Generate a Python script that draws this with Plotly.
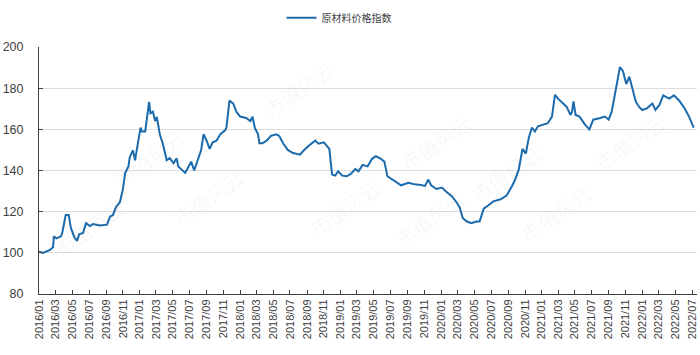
import plotly.graph_objects as go
import pandas as pd

series_name = "原材料价格指数"
dates = [
    "2016-01-01", "2016-01-15", "2016-02-10", "2016-02-21", "2016-02-24", "2016-03-04", "2016-03-21", "2016-03-26",
    "2016-04-07", "2016-04-18", "2016-04-26", "2016-05-09", "2016-05-18", "2016-05-26", "2016-06-09", "2016-06-20",
    "2016-07-04", "2016-07-15", "2016-08-09", "2016-09-04", "2016-09-15", "2016-09-26", "2016-10-07", "2016-10-21",
    "2016-11-01", "2016-11-09", "2016-11-21", "2016-11-26", "2016-12-07", "2016-12-15", "2016-12-21", "2017-01-04",
    "2017-01-09", "2017-01-21", "2017-02-04", "2017-02-09", "2017-02-18", "2017-02-26", "2017-03-04", "2017-03-15",
    "2017-03-26", "2017-04-09", "2017-04-20", "2017-05-04", "2017-05-15", "2017-05-21", "2017-06-04", "2017-06-15",
    "2017-06-23", "2017-07-07", "2017-07-18", "2017-08-01", "2017-08-12", "2017-08-21", "2017-09-01", "2017-09-12",
    "2017-09-23", "2017-10-07", "2017-10-21", "2017-11-07", "2017-11-12", "2017-11-23", "2017-12-07", "2017-12-18",
    "2018-01-01", "2018-01-23", "2018-02-07", "2018-02-15", "2018-02-23", "2018-03-07", "2018-03-12", "2018-03-23",
    "2018-04-07", "2018-04-23", "2018-05-12", "2018-05-23", "2018-06-07", "2018-06-23", "2018-07-12", "2018-08-07",
    "2018-08-18", "2018-09-07", "2018-10-01", "2018-10-12", "2018-11-01", "2018-11-12", "2018-11-21", "2018-12-01",
    "2018-12-12", "2018-12-23", "2019-01-07", "2019-01-23", "2019-02-07", "2019-02-23", "2019-03-07", "2019-03-22",
    "2019-04-09", "2019-04-26", "2019-05-09", "2019-05-26", "2019-06-09", "2019-06-20", "2019-07-09", "2019-07-26",
    "2019-08-09", "2019-09-04", "2019-09-26", "2019-10-20", "2019-11-04", "2019-11-15", "2019-11-26", "2019-12-15",
    "2020-01-04", "2020-01-20", "2020-02-09", "2020-02-26", "2020-03-09", "2020-03-20", "2020-04-04", "2020-04-20",
    "2020-05-09", "2020-05-20", "2020-06-04", "2020-06-20", "2020-07-09", "2020-08-04", "2020-08-26", "2020-09-15",
    "2020-09-26", "2020-10-09", "2020-10-17", "2020-10-23", "2020-11-04", "2020-11-15", "2020-11-26", "2020-12-07",
    "2020-12-18", "2021-01-07", "2021-01-23", "2021-02-07", "2021-02-18", "2021-03-01", "2021-03-18", "2021-04-01",
    "2021-04-15", "2021-04-21", "2021-04-26", "2021-05-04", "2021-05-18", "2021-06-07", "2021-06-23", "2021-07-07",
    "2021-08-01", "2021-08-18", "2021-09-01", "2021-09-12", "2021-09-23", "2021-10-07", "2021-10-12", "2021-10-23",
    "2021-11-04", "2021-11-15", "2021-11-23", "2021-12-09", "2021-12-20", "2022-01-01", "2022-01-18", "2022-02-07",
    "2022-02-18", "2022-03-04", "2022-03-18", "2022-04-09", "2022-04-26", "2022-05-15", "2022-06-04", "2022-06-20",
    "2022-07-07",
]
values = [
    100.5, 100.0, 101.4, 102.7, 108.0, 107.0, 108.0, 110.0,
    118.4, 118.4, 112.0, 107.4, 105.8, 109.0, 109.7, 114.4,
    113.0, 114.0, 113.3, 113.7, 117.6, 118.4, 122.3, 124.6,
    131.0, 138.8, 142.0, 146.6, 149.8, 145.0, 149.8, 160.8,
    159.0, 159.0, 173.3, 167.8, 168.6, 164.0, 166.0, 157.6,
    153.0, 145.0, 146.0, 143.5, 146.0, 142.0, 140.3, 138.8,
    140.7, 144.3, 140.0, 145.8, 149.8, 157.6, 154.5, 150.5,
    153.7, 154.5, 157.6, 159.5, 160.8, 174.0, 172.5, 168.6,
    166.2, 165.5, 164.0, 166.2, 160.8, 157.6, 153.2, 153.2,
    154.5, 156.8, 157.6, 156.8, 153.0, 150.0, 148.5, 147.7,
    149.5, 152.0, 154.5, 153.0, 153.7, 152.0, 150.5, 138.0,
    137.5, 139.6, 137.5, 137.2, 138.3, 140.7, 139.6, 142.7,
    142.0, 145.8, 147.0, 145.8, 144.3, 137.2, 135.6, 133.8,
    132.8, 134.0, 133.3, 133.0, 132.5, 135.6, 132.8, 131.0,
    131.7, 129.7, 127.5, 124.6, 122.0, 116.8, 115.2, 114.4,
    115.2, 115.2, 121.5, 123.0, 125.0, 126.0, 127.8, 132.5,
    135.6, 140.3, 147.4, 150.5, 148.2, 156.0, 160.8, 159.0,
    161.5, 162.3, 163.0, 166.2, 176.8, 174.9, 172.5, 171.0,
    167.0, 168.6, 173.6, 167.0, 166.2, 162.3, 160.0, 164.7,
    165.5, 166.2, 164.7, 168.6, 176.5, 187.4, 190.3, 188.2,
    182.0, 185.6, 181.2, 173.3, 171.0, 169.4, 170.2, 172.5,
    169.4, 171.7, 176.5, 174.9, 176.5, 174.0, 170.2, 166.2,
    160.8,
]
y_ticks = [80, 100, 120, 140, 160, 180, 200]
x_tick_dates = pd.date_range("2016-01-01", "2022-07-01", freq="2MS")
x_tick_labels = [d.strftime("%Y/%m") for d in x_tick_dates]

watermark_text = "市值风云"
# approximate watermark centres in page pixels
watermark_spots = [(105, 115), (165, 195), (255, 45), (345, 205), (480, 100),
                   (550, 170), (600, 250), (675, 100), (430, 255), (45, 265)]

fig = go.Figure()
fig.add_trace(go.Scatter(
    x=dates, y=values, mode="lines", name=series_name,
    line=dict(color="#1b6bad", width=2),
))

fig.update_layout(
    width=700, height=355,
    margin=dict(l=39, r=3, t=40, b=61),
    paper_bgcolor="white", plot_bgcolor="white",
    showlegend=True,
    legend=dict(orientation="h", x=0.456, xanchor="center", y=1.06, yanchor="bottom",
                font=dict(family="Noto Sans CJK SC", size=10, color="#404040"),
                bgcolor="rgba(0,0,0,0)"),
    font=dict(family="Liberation Sans", color="#404040"),
)
for px, py in watermark_spots:
    fig.add_annotation(
        x=px / 700, y=1 - py / 355, xref="x domain", yref="y domain",
        text=watermark_text, showarrow=False, textangle=-35,
        font=dict(family="Noto Sans CJK SC", size=20, color="rgba(0,0,0,0.045)"),
    )
# convert page pixel spots to plot-domain fractions
plot_l, plot_r, plot_t, plot_b = 39, 697, 40, 294
for ann, (px, py) in zip(fig.layout.annotations, watermark_spots):
    ann.x = (px - plot_l) / (plot_r - plot_l)
    ann.y = (plot_b - py) / (plot_b - plot_t)

fig.update_xaxes(
    type="date", range=["2016-01-01", "2022-07-19"],
    tickmode="array", tickvals=x_tick_dates, ticktext=x_tick_labels,
    tickangle=-90, tickfont=dict(size=11, color="#404040", family="Liberation Sans"),
    showgrid=False, showline=True, linecolor="#404040", linewidth=1,
    ticks="inside", ticklen=4, tickcolor="#404040", zeroline=False,
)
fig.update_yaxes(
    range=[80, 200], tickmode="array", tickvals=y_ticks,
    tickfont=dict(size=12.5, color="#404040", family="Liberation Sans"),
    showgrid=True, gridcolor="#dcdcdc", gridwidth=1,
    showline=True, linecolor="#404040", linewidth=1,
    ticks="inside", ticklen=4, tickcolor="#404040", zeroline=False,
    ticklabelstandoff=12,
)

fig.write_html("out.html")
